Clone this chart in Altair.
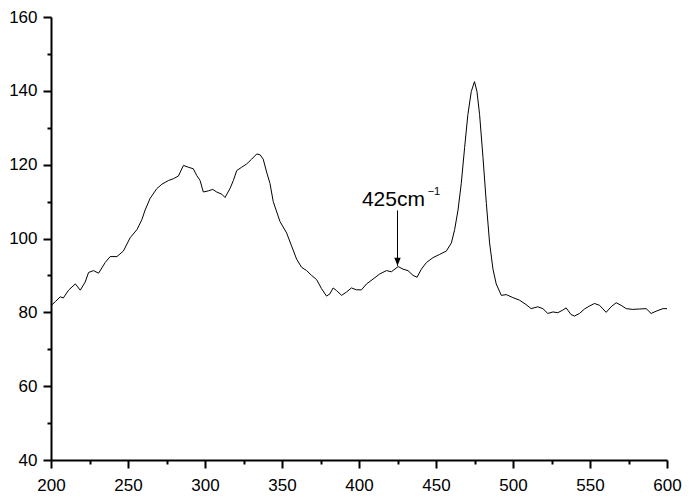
import altair as alt
import pandas as pd

# Raman-like spectrum
wavenumber = [200, 202.8, 206, 208, 211.4, 215.8, 219, 222.2, 224.4, 227.6, 230.9, 235.2, 238.4, 242.8,
              247, 251.4, 255.8, 259, 261.1, 264.4, 268.7, 272, 276.2, 279.5, 282.7, 286, 289.2, 292.4,
              294.6, 296.8, 298.9, 302.2, 305, 307.6, 310.9, 313, 316.2, 318.4, 320.6, 323.8, 327.1,
              330.3, 333.6, 335.7, 337.8, 340, 342.2, 344.3, 348.7, 353, 356.2, 359.5, 362.7, 366,
              369.2, 372.4, 375.7, 378.9, 381.1, 383.2, 385.4, 388.7, 391.9, 395.1, 398.4, 401.6,
              404.9, 409.1, 413.5, 417.8, 421.1, 425.4, 428.6, 431.8, 435.1, 437.7, 440.5, 443.8,
              448, 452.4, 456.7, 460, 462.1, 464.3, 466.4, 468.6, 470.7, 472.9, 475, 476.6, 478.3,
              480.5, 482.7, 484.8, 487, 489.1, 492.4, 495.6, 499.9, 504.2, 508.5, 511.8, 516.1,
              519.4, 522.6, 525.9, 529.1, 532.3, 534.5, 537.7, 539.9, 543.2, 546.4, 549.6, 552.9,
              556.2, 560.5, 563.7, 567, 570.2, 573.5, 577.8, 582.1, 586.5, 589.7, 592.9, 597.3, 600]
intensity = [81.8, 82.9, 84.2, 83.9, 86, 87.7, 86, 88.2, 90.8, 91.3, 90.6, 93.5, 95.1, 95.1,
             96.6, 100.2, 102.4, 105.1, 107.7, 110.9, 113.5, 114.7, 115.7, 116.2, 116.9, 119.8, 119.3, 118.9,
             117.1, 115.7, 112.6, 112.9, 113.3, 112.6, 112, 111.1, 113.5, 115.7, 118.4, 119.3, 120.2,
             121.5, 122.9, 122.7, 121.5, 118, 114.9, 110, 104.6, 101.5, 98, 94.4, 92.2, 91.3,
             90, 88.9, 86.4, 84.4, 85, 86.6, 85.9, 84.6, 85.5, 86.6, 86.1, 86.1,
             87.7, 89, 90.4, 91.3, 91, 92.4, 91.7, 91.3, 90, 89.5, 91.7, 93.5,
             94.8, 95.7, 96.6, 98.8, 102.4, 107.7, 114.9, 124.7, 133.6, 139.8, 142.5, 139.8, 133.6,
             122, 109.5, 98.8, 91.7, 87.7, 84.6, 84.8, 84, 83.3, 82.1, 81, 81.5,
             81, 79.7, 80.1, 79.9, 80.6, 81.2, 79.4, 79, 79.7, 80.9, 81.7, 82.4,
             81.9, 80, 81.5, 82.6, 81.9, 81, 80.8, 80.9, 81, 79.7, 80.3, 81, 81]

x_major = [200, 250, 300, 350, 400, 450, 500, 550, 600]
x_minor = [225, 275, 325, 375, 425, 475, 525, 575]
y_major = [40, 60, 80, 100, 120, 140, 160]
y_minor = [50, 70, 90, 110, 130, 150]

# annotation
arrow_x = [425]
arrow_top = [107.6]
arrow_tip = [92.6]
label_text = ["425cm"]
label_x = [401.9]
label_y = [108.8]
sup_text = ["\u22121"]
sup_x = [444.6]
sup_y = [111.8]

df = pd.DataFrame({"x": wavenumber, "y": intensity})
arrow_df = pd.DataFrame({"x": arrow_x, "y": arrow_top, "y2": arrow_tip})
tip_df = pd.DataFrame({"x": arrow_x, "y": arrow_tip})
label_df = pd.DataFrame({"x": label_x, "y": label_y, "t": label_text})
sup_df = pd.DataFrame({"x": sup_x, "y": sup_y, "t": sup_text})

xscale = alt.Scale(domain=[200, 600], nice=False, zero=False)
yscale = alt.Scale(domain=[40, 160], nice=False, zero=False)

FONT = "Liberation Sans"

major_x_axis = alt.Axis(orient="bottom", values=x_major, title=None, grid=False, tickSize=8, tickWidth=2,
                        tickColor="black", domainColor="black", domainWidth=2, labelFontSize=17,
                        labelFont=FONT, labelColor="black", labelPadding=9, labelFlush=False,
                        labelOverlap=False, format="d")
major_y_axis = alt.Axis(orient="left", values=y_major, title=None, grid=False, tickSize=8, tickWidth=2,
                        tickColor="black", domainColor="black", domainWidth=2, labelFontSize=17,
                        labelFont=FONT, labelColor="black", labelPadding=6, labelFlush=False,
                        labelOverlap=False, format="d")
minor_x_axis = alt.Axis(orient="bottom", values=x_minor, title=None, grid=False, tickSize=4, tickWidth=2,
                        tickColor="black", domain=False, labels=False)
minor_y_axis = alt.Axis(orient="left", values=y_minor, title=None, grid=False, tickSize=4, tickWidth=2,
                        tickColor="black", domain=False, labels=False)

line = alt.Chart(df).mark_line(color="black", strokeWidth=1).encode(
    x=alt.X("x:Q", scale=xscale, axis=major_x_axis),
    y=alt.Y("y:Q", scale=yscale, axis=major_y_axis),
)

arrow = alt.Chart(arrow_df).mark_rule(color="black", strokeWidth=1).encode(
    x=alt.X("x:Q", scale=xscale, axis=minor_x_axis),
    y=alt.Y("y:Q", scale=yscale, axis=minor_y_axis),
    y2="y2:Q",
)

tip = alt.Chart(tip_df).mark_point(
    shape="M-0.4,-1L0.4,-1L0,0Z", filled=True, color="black", size=256, opacity=1
).encode(x=alt.X("x:Q", axis=None), y=alt.Y("y:Q", axis=None))

label = alt.Chart(label_df).mark_text(
    align="left", baseline="alphabetic", font=FONT, fontSize=21, color="black"
).encode(x=alt.X("x:Q", axis=None), y=alt.Y("y:Q", axis=None), text="t:N")

sup = alt.Chart(sup_df).mark_text(
    align="left", baseline="alphabetic", font=FONT, fontSize=11, color="black"
).encode(x=alt.X("x:Q", axis=None), y=alt.Y("y:Q", axis=None), text="t:N")

chart = alt.layer(line, arrow, tip, label, sup).resolve_axis(
    x="independent", y="independent"
).properties(
    width=616, height=443,
    autosize=alt.AutoSizeParams(type="none"),
    padding={"left": 43, "top": 9, "right": 20, "bottom": 34},
).configure_view(strokeWidth=0)

chart.save("out.html", embed_options={"renderer": "svg", "actions": False})
